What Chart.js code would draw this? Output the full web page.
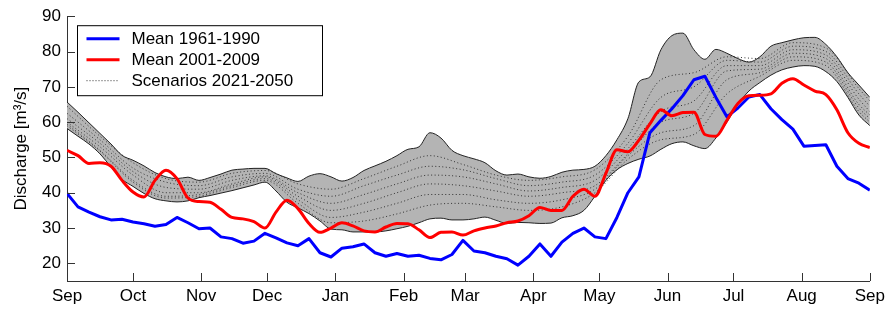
<!DOCTYPE html>
<html>
<head>
<meta charset="utf-8">
<script src="https://cdn.jsdelivr.net/npm/chart.js@4.4.1/dist/chart.umd.min.js"></script>
<style>
  html, body { margin: 0; padding: 0; background: #fff; }
  #chart { display: block; }
</style>
</head>
<body>
<canvas id="chart" width="890" height="311"></canvas>
<script>
// day of the hydrological year (0 = 1 Sep)
const days = [0, 5, 10, 15, 20, 25, 30, 35, 40, 45, 50, 55, 60, 65, 70, 75, 80, 85, 90, 95,
  100, 105, 110, 115, 120, 125, 130, 135, 140, 145, 150, 155, 160, 165, 170, 175, 180, 185, 190, 195,
  200, 205, 210, 215, 220, 225, 230, 235, 240, 245, 250, 255, 260, 265, 270, 275, 280, 285, 290, 295,
  300, 305, 310, 315, 320, 325, 330, 335, 340, 345, 350, 355, 360, 365];

// Mean 1961-1990
const mean1961 = [39.8, 36, 34.5, 33.2, 32.3, 32.5, 31.7, 31.2, 30.5, 31, 33, 31.5, 29.8, 30, 27.5, 27, 25.7, 26.3, 28.5, 27.2,
  25.8, 25, 27, 23, 21.8, 24.3, 24.7, 25.5, 23, 22, 22.8, 22, 22.3, 21.4, 21, 22.5, 26.5, 23.5, 23, 22,
  21.3, 19.5, 22, 25.5, 22, 26, 28.5, 30, 27.5, 27, 33, 40, 44.5, 57, 60.5, 63.8, 67.5, 72, 73, 67,
  61.5, 64, 67.1, 67.8, 63.8, 60.7, 58, 53.2, 53.4, 53.6, 47.5, 44, 42.7, 40.7];

// Mean 2001-2009
const mean2001 = [52, 50.5, 48.3, 48.5, 47.5, 43.5, 40.2, 38.8, 43.5, 46.4, 44, 38.5, 37.5, 37.3, 35.3, 33, 32.6, 31.8, 30, 34.5,
  37.9, 35.5, 31.3, 28.8, 30, 31.5, 30.6, 29.2, 28.9, 30.3, 31.3, 31.2, 29.5, 27.3, 28.8, 28.9, 28, 29.2, 30, 30.6,
  31.5, 32, 33.5, 35.8, 35, 35, 39, 41, 39, 45.5, 52.2, 51.6, 54.9, 59.5, 63.5, 61.8, 62.7, 62.8, 56.5, 56,
  60.5, 65.3, 67.5, 67.6, 68, 71, 72.3, 70.5, 68.8, 67.8, 63.5, 57, 54, 52.8];

// scenario envelope 2021-2050
const bandUpper = [65.7, 62.8, 59.8, 56.8, 53.8, 50.6, 49.2, 47.6, 45.7, 44.5, 44, 44.4, 43.5, 44.3, 45.3, 46.4, 46.7, 46.9, 46.9, 45.4,
  44.2, 43.2, 44.7, 45.4, 44.5, 43.3, 44.3, 46.3, 47.6, 48.9, 50.5, 52.3, 53, 57, 55.5, 52, 50.5, 49.6, 48.5, 46.2,
  45, 45.3, 44.5, 44.1, 44.6, 45.8, 46.4, 46.6, 47.5, 50.5, 55, 61, 71.4, 72.8, 80.5, 84.5, 85.2, 80.5, 77.8, 80.6,
  79.5, 78, 77, 78.5, 81.5, 82.5, 83.3, 83.9, 84, 82, 78.5, 74, 70.5, 67];
const bandLower = [58.2, 56, 53.8, 51, 47.3, 43.8, 41.8, 39.8, 38.3, 37.7, 37.4, 37.7, 38.6, 39.2, 39.9, 40.6, 41.4, 42.2, 43, 40.5,
  37.3, 35.7, 34.1, 32, 29.7, 29.5, 28.9, 28.9, 28.9, 29.2, 29.8, 30.5, 31.5, 32.6, 32.8, 32.3, 32.3, 32.6, 33.1, 32.2,
  31.3, 31.6, 31.5, 31.3, 31.4, 32.9, 33.5, 35, 39, 43.5, 46.5, 48.3, 49.5, 50.4, 52.3, 53.9, 54.4, 53.3, 52.5, 55.5,
  60, 65, 68.8, 71.2, 73.3, 74.8, 75.6, 76, 75.8, 74.3, 71.5, 67, 62, 59];

// individual scenario runs (dotted)
const scenDays = [0, 15, 30, 45, 60, 75, 90, 105, 120, 135, 150, 165, 180, 195, 210, 225, 240, 255, 270, 285, 300, 315, 330, 345, 360, 365];
const scen1 = [64.5, 56, 48.5, 44, 43, 45.5, 46.3, 42.5, 41, 44, 47.5, 50.5, 48, 45, 43.5, 44.5, 46.5, 56, 72, 74, 78.5, 78, 82.5, 81, 69.5, 66];
const scen2 = [62.5, 55, 47, 43, 42, 44.5, 45.5, 41, 39, 42, 45, 47.5, 46.5, 44, 42, 43, 45, 54, 67, 70, 77.5, 77, 81.5, 80, 68, 64.5];
const scen3 = [61, 54, 46, 41.5, 41, 43.5, 44.8, 40, 37, 39.5, 42.5, 45, 44.5, 42.5, 40.5, 41.5, 43.5, 52.5, 63, 66, 76, 76, 80.5, 79, 66.5, 63];
const scen4 = [60, 53, 45, 40, 40, 42.5, 44.5, 39, 35, 37, 40, 42.5, 42, 40.5, 39, 40, 42, 51, 60, 62.5, 74.5, 75, 79.5, 78, 65, 62];
const scen5 = [59.5, 52, 43.5, 39, 39.5, 42, 44, 38, 33, 34.5, 37, 39.5, 39.5, 38, 37, 38, 41, 50.5, 57, 59, 72, 74, 78.5, 77, 64, 61];
const scen6 = [59, 51.8, 43, 38.5, 39, 41.5, 43.5, 37, 31.5, 32, 34, 36.5, 37, 36, 35, 36, 40, 49.5, 55, 56.5, 68, 73, 77.5, 76, 63, 60];
const scenarios = [scen1, scen2, scen3, scen4, scen5, scen6];

// axes
const monthDays = [0, 30, 61, 91, 122, 153, 181, 212, 242, 273, 303, 334, 365];
const monthLabels = ['Sep', 'Oct', 'Nov', 'Dec', 'Jan', 'Feb', 'Mar', 'Apr', 'May', 'Jun', 'Jul', 'Aug', 'Sep'];
const yTicks = [20, 30, 40, 50, 60, 70, 80, 90];
const legendLabels = ['Mean 1961-1990', 'Mean 2001-2009', 'Scenarios 2021-2050'];

const pts = (xs, ys) => xs.map((d, i) => ({ x: d, y: ys[i] }));

const FONT = "'Liberation Sans', Arial, Helvetica, sans-serif";
Chart.defaults.font.family = FONT;
Chart.defaults.font.size = 17;
Chart.defaults.color = '#000';

// ticks pointing into the plot, like the original
const inwardTicks = {
  id: 'inwardTicks',
  afterDatasetsDraw(chart) {
    const { ctx, chartArea: a, scales: { x, y } } = chart;
    ctx.save();
    ctx.strokeStyle = '#333';
    ctx.lineWidth = 1;
    ctx.beginPath();
    monthDays.forEach(d => {
      const px = Math.round(x.getPixelForValue(d)) + 0.5;
      ctx.moveTo(px, a.bottom);
      ctx.lineTo(px, a.bottom - 8);
    });
    yTicks.forEach(v => {
      const py = Math.round(y.getPixelForValue(v)) + 0.5;
      ctx.moveTo(a.left, py);
      ctx.lineTo(a.left + 8, py);
    });
    ctx.stroke();
    ctx.restore();
  }
};

// boxed legend inside the plot
const boxLegend = {
  id: 'boxLegend',
  afterDatasetsDraw(chart) {
    const { ctx, chartArea: a } = chart;
    const bx = a.left + 10.5, by = a.top + 9.5, bw = 245, bh = 70;
    ctx.save();
    ctx.fillStyle = '#fff';
    ctx.fillRect(bx, by, bw, bh);
    ctx.strokeStyle = '#000';
    ctx.lineWidth = 1;
    ctx.strokeRect(bx, by, bw, bh);

    const styles = [
      { color: '#0000ff', width: 3, dash: [] },
      { color: '#ff0000', width: 3, dash: [] },
      { color: '#333', width: 1, dash: [1, 2] }
    ];
    ctx.font = '17px ' + FONT;
    ctx.textBaseline = 'middle';
    ctx.fillStyle = '#000';
    legendLabels.forEach((label, i) => {
      const ly = by + 13 + i * 21;
      ctx.beginPath();
      ctx.strokeStyle = styles[i].color;
      ctx.lineWidth = styles[i].width;
      ctx.setLineDash(styles[i].dash);
      ctx.moveTo(bx + 9, ly);
      ctx.lineTo(bx + 42, ly);
      ctx.stroke();
      ctx.setLineDash([]);
      ctx.fillText(label, bx + 54, ly + 1);
    });
    ctx.restore();
  }
};

const lineBase = { pointRadius: 0, fill: false, cubicInterpolationMode: 'monotone' };

const datasets = [
  Object.assign({ label: legendLabels[1], data: pts(days, mean2001), borderColor: '#ff0000', borderWidth: 3 }, lineBase),
  // the old mean is a noisy daily series: keep straight segments
  { label: legendLabels[0], data: pts(days, mean1961), borderColor: '#0000ff', borderWidth: 3,
    pointRadius: 0, fill: false, tension: 0, borderJoinStyle: 'round' },
  ...scenarios.map(s => Object.assign({
    label: legendLabels[2], data: pts(scenDays, s), borderColor: '#333', borderWidth: 1, borderDash: [1, 2.5]
  }, lineBase)),
  Object.assign({}, lineBase, {
    label: 'upper', data: pts(days, bandUpper), borderColor: '#222', borderWidth: 1,
    backgroundColor: '#b4b4b4', fill: '+1'
  }),
  Object.assign({ label: 'lower', data: pts(days, bandLower), borderColor: '#222', borderWidth: 1 }, lineBase)
];

new Chart(document.getElementById('chart'), {
  type: 'line',
  data: { datasets },
  options: {
    responsive: false,
    devicePixelRatio: 1,
    animation: false,
    layout: { padding: { top: 16, right: 18, bottom: 0, left: 0 } },
    plugins: {
      legend: { display: false },
      tooltip: { enabled: false },
      filler: { drawTime: 'beforeDatasetsDraw' }
    },
    scales: {
      x: {
        type: 'linear',
        min: 0,
        max: 365,
        grid: { display: false, drawTicks: false },
        border: { display: true, color: '#333', width: 1 },
        afterBuildTicks: scale => { scale.ticks = monthDays.map(v => ({ value: v })); },
        afterFit: scale => { scale.height = 30; },
        ticks: {
          autoSkip: false, maxRotation: 0, minRotation: 0, padding: 5,
          callback: (value, index) => monthLabels[index]
        }
      },
      y: {
        min: 15,
        max: 90,
        grid: { display: false, drawTicks: false },
        border: { display: true, color: '#333', width: 1 },
        afterBuildTicks: scale => { scale.ticks = yTicks.map(v => ({ value: v })); },
        afterFit: scale => { scale.width = 67; },
        ticks: { padding: 6 },
        title: { display: true, text: 'Discharge [m³/s]', padding: { top: 11, bottom: 0 } }
      }
    }
  },
  plugins: [inwardTicks, boxLegend]
});
</script>
</body>
</html>
